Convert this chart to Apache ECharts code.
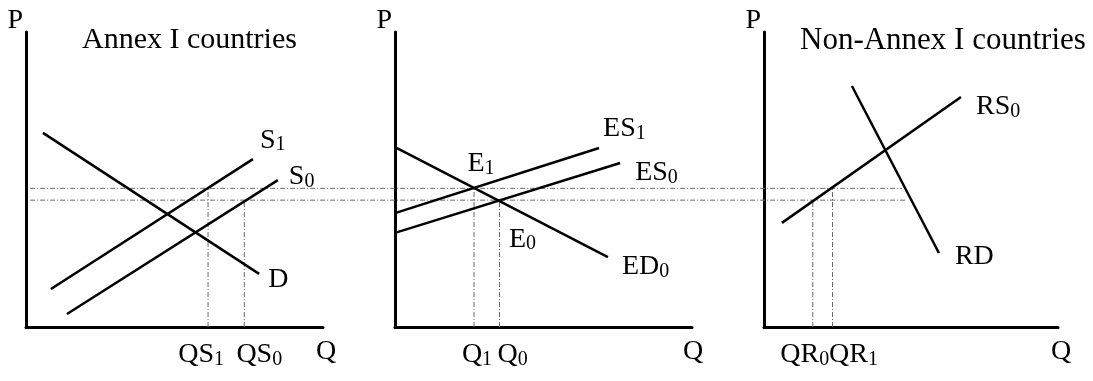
<!DOCTYPE html>
<html>
<head>
<meta charset="utf-8">
<script src="https://cdn.jsdelivr.net/npm/echarts@6/dist/echarts.min.js"></script>
<style>
html, body { margin: 0; background: #fff; }
#chart { width: 1093px; height: 381px; }
</style>
</head>
<body>
<div id="chart"></div>
<script>
// price levels shared by the three panels (axis units 0..100)
var priceP1 = 47;
var priceP0 = 43;

// Annex I countries
var annexD = [[5.7, 65.8], [78.5, 18.0]];
var annexS1 = [[8.4, 12.9], [76.4, 56.9]];
var annexS0 = [[13.8, 4.4], [84.8, 49.8]];
var annexTicks = [61.3, 73.5];
var annexTickNames = [['QS', '1'], ['QS', '0']];
var annexTickPrices = [priceP1, priceP0];

// permit market
var marketED0 = [[0, 61.0], [71.7, 23.7]];
var marketES1 = [[0, 38.6], [68.7, 60.7]];
var marketES0 = [[0, 31.9], [75.8, 55.6]];
var marketTicks = [26.6, 35.2];
var marketTickNames = [['Q', '1'], ['Q', '0']];
var marketTickPrices = [priceP1, priceP0];
var equilibria = [[26.6, priceP1], [35.2, priceP0]];
var equilibriumNames = [['E', '1'], ['E', '0']];

// Non-Annex I countries
var nonAnnexRS0 = [[6.1, 35.3], [67.0, 78.0]];
var nonAnnexRD = [[29.9, 81.7], [59.5, 25.1]];
var nonAnnexTicks = [16.6, 23.3];
var nonAnnexTickNames = [['QR', '0'], ['QR', '1']];
var nonAnnexTickPrices = [priceP0, priceP1];

// price guides running across the whole figure (overlay axis 0..100)
var guideP1 = [[0.4, priceP1], [84.9, priceP1]];
var guideP0 = [[0.4, priceP0], [85.2, priceP0]];

var FONT = '"Liberation Serif", "Times New Roman", serif';
var mainStyle = { fontFamily: FONT, fontSize: 28, color: '#000', lineHeight: 30 };
var subStyle = { fontFamily: FONT, fontSize: 20, color: '#000', lineHeight: 19, verticalAlign: 'bottom' };
var guideStyle = { color: '#6a6a6a', width: 1, type: [5, 2, 1, 2] };

function richSub(main, sub) {
    return '{m|' + main + '}{s|' + sub + '}';
}

function curve(grid, data, main, sub, offset) {
    return {
        type: 'line', xAxisIndex: grid, yAxisIndex: grid,
        data: data, symbol: 'none', silent: true,
        lineStyle: { color: '#000', width: 2.5 },
        endLabel: {
            show: true, distance: 0, offset: offset,
            align: 'left', verticalAlign: 'middle',
            formatter: sub ? richSub(main, sub) : '{m|' + main + '}',
            rich: { m: mainStyle, s: subStyle }
        }
    };
}

function guide(grid, data) {
    return {
        type: 'line', xAxisIndex: grid, yAxisIndex: grid,
        data: data, symbol: 'none', silent: true,
        lineStyle: guideStyle
    };
}

// text marks placed at data points, nudged by pixel shifts
function pointLabels(grid, points, names, shifts) {
    return {
        type: 'scatter', xAxisIndex: grid, yAxisIndex: grid, silent: true, clip: false,
        symbolSize: 0, itemStyle: { color: '#000', opacity: 1 },
        data: points,
        label: {
            show: true, position: 'inside', color: '#000', textBorderWidth: 0,
            formatter: function (p) { return richSub(names[p.dataIndex][0], names[p.dataIndex][1]); },
            rich: { m: mainStyle, s: subStyle }
        },
        labelLayout: function (params) {
            var sh = shifts[params.dataIndex];
            return { dx: sh[0], dy: sh[1] };
        }
    };
}

function tickLabels(grid, ticks, names, shifts) {
    return pointLabels(grid, ticks.map(function (q) { return [q, 0]; }), names, shifts);
}

function xAxisFor(grid, nameGap) {
    return {
        gridIndex: grid, type: 'value', min: 0, max: 100,
        axisLine: { show: true, onZero: false, lineStyle: { color: '#000', width: 3 } },
        axisTick: { show: false }, splitLine: { show: false }, axisLabel: { show: false },
        name: 'Q', nameLocation: 'end', nameGap: nameGap,
        nameTextStyle: { fontFamily: FONT, fontSize: 28, color: '#000', align: 'center', verticalAlign: 'top', padding: [11, 0, 0, 0] }
    };
}

function yAxisFor(grid) {
    return {
        gridIndex: grid, type: 'value', min: 0, max: 100,
        axisLine: { show: true, onZero: false, lineStyle: { color: '#000', width: 3 } },
        axisTick: { show: false }, splitLine: { show: false }, axisLabel: { show: false },
        name: 'P', nameLocation: 'end', nameGap: 11,
        nameTextStyle: { fontFamily: FONT, fontSize: 28, color: '#000', align: 'right', verticalAlign: 'middle', padding: [0, 3, 0, 0] }
    };
}

function tickGuides(grid, ticks, prices) {
    return ticks.map(function (q, i) {
        return guide(grid, [[q, 0], [q, prices[i]]]);
    });
}

var chart = echarts.init(document.getElementById('chart'));
var option = {
    animation: false,
    backgroundColor: '#fff',
    title: [
        { text: 'Annex I countries', left: 82, top: 25, padding: 0, textStyle: { fontFamily: FONT, fontSize: 30, fontWeight: 'normal', color: '#000' } },
        { text: 'Non-Annex I countries', left: 800, top: 25, padding: 0, textStyle: { fontFamily: FONT, fontSize: 31, fontWeight: 'normal', color: '#000' } }
    ],
    grid: [
        { left: 26, top: 32, width: 297, height: 295 },
        { left: 395, top: 32, width: 297, height: 295 },
        { left: 764, top: 32, width: 294, height: 295 },
        { left: 26, top: 32, width: 1032, height: 295 }
    ],
    xAxis: [
        xAxisFor(0, 3),
        xAxisFor(1, 1),
        xAxisFor(2, 3),
        { gridIndex: 3, type: 'value', min: 0, max: 100, show: false }
    ],
    yAxis: [
        yAxisFor(0), yAxisFor(1), yAxisFor(2),
        { gridIndex: 3, type: 'value', min: 0, max: 100, show: false }
    ],
    series: [].concat(
        [guide(3, guideP1), guide(3, guideP0)],
        tickGuides(0, annexTicks, annexTickPrices),
        tickGuides(1, marketTicks, marketTickPrices),
        tickGuides(2, nonAnnexTicks, nonAnnexTickPrices),
        [
            curve(0, annexD, 'D', null, [9, 6]),
            curve(0, annexS1, 'S', '1', [7, -19]),
            curve(0, annexS0, 'S', '0', [11, -3]),
            curve(1, marketED0, 'ED', '0', [14, 10]),
            curve(1, marketES1, 'ES', '1', [4, -19]),
            curve(1, marketES0, 'ES', '0', [15, 10]),
            curve(2, nonAnnexRS0, 'RS', '0', [15, 10]),
            curve(2, nonAnnexRD, 'RD', null, [16, 4]),
            pointLabels(1, equilibria, equilibriumNames, [[7, -25], [23, 39]]),
            tickLabels(0, annexTicks, annexTickNames, [[-7, 28], [15, 28]]),
            tickLabels(1, marketTicks, marketTickNames, [[3, 28], [13, 28]]),
            tickLabels(2, nonAnnexTicks, nonAnnexTickNames, [[-8, 28], [21, 28]])
        ]
    )
};
chart.setOption(option);
window.onresize = chart.resize;
</script>
</body>
</html>
